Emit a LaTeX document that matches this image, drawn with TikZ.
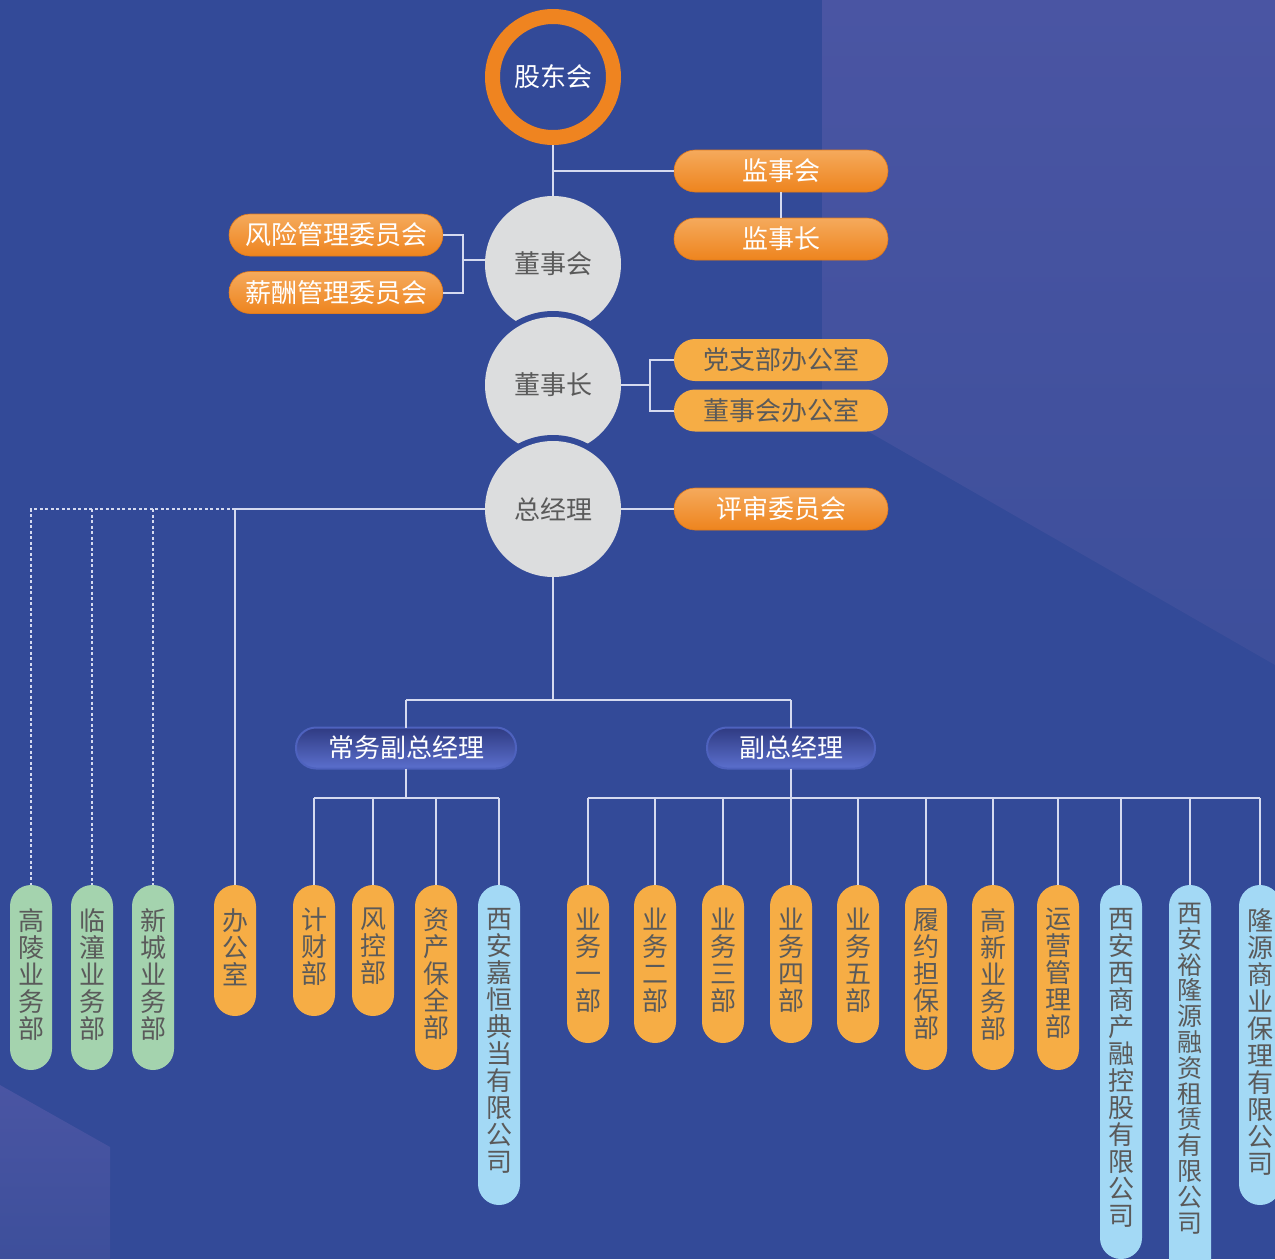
\documentclass[tikz,border=0pt]{standalone}
\usepackage{fontspec}
\newfontfamily\cjk{Noto Sans CJK SC}
\definecolor{bg}{HTML}{334A98}
\definecolor{bglT}{HTML}{4A55A3}
\definecolor{bglB}{HTML}{3D4F9B}
\definecolor{linec}{HTML}{D5DAF0}
\definecolor{orgT}{HTML}{F5AA5C}
\definecolor{orgB}{HTML}{EE841E}
\definecolor{orgE}{HTML}{E07A1C}
\definecolor{orgL}{HTML}{F6AD45}
\definecolor{greenp}{HTML}{A4D3AE}
\definecolor{bluep}{HTML}{A3D9F5}
\definecolor{grayc}{HTML}{DCDDDE}
\definecolor{txtd}{HTML}{5A5A5A}
\definecolor{blT}{HTML}{2F3B82}
\definecolor{blB}{HTML}{5B6FCD}
\definecolor{blD}{HTML}{4E62BE}
\definecolor{ring}{HTML}{EF8420}
\newcommand\vp[5]{%
  \node[#4, minimum height={77+27*(#3-1)}, anchor=north] (#1) at (#2,885) {};
  \node[vtext, anchor=north] (#1-t) at (#2,908) {#5};
}
\begin{document}
\begin{tikzpicture}[x=1pt,y=-1pt,
 font=\cjk\fontsize{26}{27}\selectfont,
 conn/.style={draw=linec, line width=2pt},
 dotc/.style={draw=linec, line width=1.6pt, dash pattern=on 3pt off 2.5pt},
 hpill/.style={rectangle, rounded corners=21pt, minimum width=214pt, minimum height=42pt, inner sep=0pt, outer sep=0pt},
 orangep/.style={hpill, top color=orgT, bottom color=orgB, draw=orgE, line width=0.6pt, text=white},
 lorangep/.style={hpill, fill=orgL, text=txtd},
 bluepill/.style={rectangle, rounded corners=20pt, minimum height=41pt, inner sep=0pt, outer sep=0pt, top color=blT, bottom color=blB, draw=blD, line width=2pt, text=white},
 gcirc/.style={circle, minimum size=136pt, inner sep=0pt, outer sep=0pt, fill=grayc, text=txtd},
 gapc/.style={circle, minimum size=148pt, inner sep=0pt, fill=bg},
 vpillbase/.style={rectangle, rounded corners=21pt, minimum width=42pt, inner sep=0pt, outer sep=0pt},
 gp/.style={vpillbase, fill=greenp},
 op/.style={vpillbase, fill=orgL},
 bp/.style={vpillbase, fill=bluep},
 vtext/.style={align=center, inner sep=0pt, text=txtd, font=\cjk\fontsize{26}{27}\selectfont},
 vtextn/.style={align=center, inner sep=0pt, text=txtd, font=\cjk\fontsize{25}{25.8}\selectfont},
]
\useasboundingbox (0,0) rectangle (1275,1259);
\clip (0,0) rectangle (1275,1259);
% background
\fill[bg] (0,0) rectangle (1275,1259);
\shade[top color=bglT, bottom color=bglB] (822,0) -- (1275,0) -- (1275,665) -- (822,405) -- cycle;
\shade[top color=bglT, bottom color=bglB] (0,1085) -- (110,1147) -- (110,1259) -- (0,1259) -- cycle;

% circles
\node[circle, minimum size=121pt, inner sep=0pt, outer sep=7.5pt, draw=ring, line width=15pt, text=white] (gdh) at (553,77) {股东会};
\node[gcirc] (dsh) at (553,264) {董事会};
\node[gapc] (gap1) at (553,385) {};
\node[gcirc] (dsz) at (553,385) {董事长};
\node[gapc] (gap2) at (553,509) {};
\node[gcirc] (zjl) at (553,509) {总经理};

% horizontal pills
\node[orangep] (jsh) at (781,171) {监事会};
\node[orangep] (jsz) at (781,239) {监事长};
\node[orangep] (fx) at (336,235) {风险管理委员会};
\node[orangep] (xc) at (336,292.5) {薪酬管理委员会};
\node[lorangep] (dzb) at (781,360) {党支部办公室};
\node[lorangep] (dsb) at (781,410.5) {董事会办公室};
\node[orangep] (psh) at (781,509) {评审委员会};

% blue pills
\node[bluepill, minimum width=220pt] (cw) at (406,748) {常务副总经理};
\node[bluepill, minimum width=168pt] (fz) at (791,748) {副总经理};

% vertical pills
\vp{gl}{31}{5}{gp}{高\\陵\\业\\务\\部}
\vp{lt}{92}{5}{gp}{临\\潼\\业\\务\\部}
\vp{xcy}{153}{5}{gp}{新\\城\\业\\务\\部}
\vp{bgs}{235}{3}{op}{办\\公\\室}
\vp{jc}{314}{3}{op}{计\\财\\部}
\vp{fk}{373}{3}{op}{风\\控\\部}
\vp{zcb}{436}{5}{op}{资\\产\\保\\全\\部}
\vp{jh}{499}{10}{bp}{西\\安\\嘉\\恒\\典\\当\\有\\限\\公\\司}
\vp{ya}{588}{4}{op}{业\\务\\一\\部}
\vp{yb}{655}{4}{op}{业\\务\\二\\部}
\vp{yc}{723}{4}{op}{业\\务\\三\\部}
\vp{yd}{791}{4}{op}{业\\务\\四\\部}
\vp{ye}{858}{4}{op}{业\\务\\五\\部}
\vp{ly}{926}{5}{op}{履\\约\\担\\保\\部}
\vp{gx}{993}{5}{op}{高\\新\\业\\务\\部}
\vp{yy}{1058}{5}{op}{运\\营\\管\\理\\部}
\vp{xs}{1121}{12}{bp}{西\\安\\西\\商\\产\\融\\控\\股\\有\\限\\公\\司}
\node[bp, minimum height=400pt, anchor=north] (yl) at (1190,885) {};
\node[vtextn, anchor=north] (yl-t) at (1190,903) {西\\安\\裕\\隆\\源\\融\\资\\租\\赁\\有\\限\\公\\司};
\vp{bl}{1260}{10}{bp}{隆\\源\\商\\业\\保\\理\\有\\限\\公\\司}

% connectors
\draw[conn] (gdh.south) -- (dsh.north);
\draw[conn] (gdh.south |- jsh.west) -- (jsh.west);
\draw[conn] (jsh.south) -- (jsz.north);
\coordinate (jl) at (463,260);
\draw[conn] (fx.east) -| (jl) |- (xc.east);
\draw[conn] (jl) -- (485.2,260);
\coordinate (jr) at (650,385);
\draw[conn] (dsz.east) -- (jr);
\draw[conn] (dzb.west) -| (jr) |- (dsb.west);
\draw[conn] (zjl.east) -- (psh.west);
\coordinate (jo) at (235,509);
\draw[conn] (zjl.west) -- (jo) -- (bgs.north);
\draw[dotc] (jo) -- (jo -| gl.north) -- (gl.north);
\draw[dotc] (jo -| lt.north) -- (lt.north);
\draw[dotc] (jo -| xcy.north) -- (xcy.north);
\coordinate (jm) at (553,700);
\draw[conn] (zjl.south) -- (jm);
\draw[conn] (jm -| cw.north) -- (jm -| fz.north);
\draw[conn] (jm -| cw.north) -- (cw.north);
\draw[conn] (jm -| fz.north) -- (fz.north);
\coordinate (cb) at (406,798);
\draw[conn] (cw.south) -- (cb);
\draw[conn] (cb -| jc.north) -- (cb -| jh.north);
\foreach \n in {jc,fk,zcb,jh} \draw[conn] (cb -| \n.north) -- (\n.north);
\coordinate (fb) at (791,798);
\draw[conn] (fz.south) -- (fb);
\draw[conn] (fb -| ya.north) -- (fb -| bl.north);
\foreach \n in {ya,yb,yc,yd,ye,ly,gx,yy,xs,yl,bl} \draw[conn] (fb -| \n.north) -- (\n.north);
\end{tikzpicture}
\end{document}
